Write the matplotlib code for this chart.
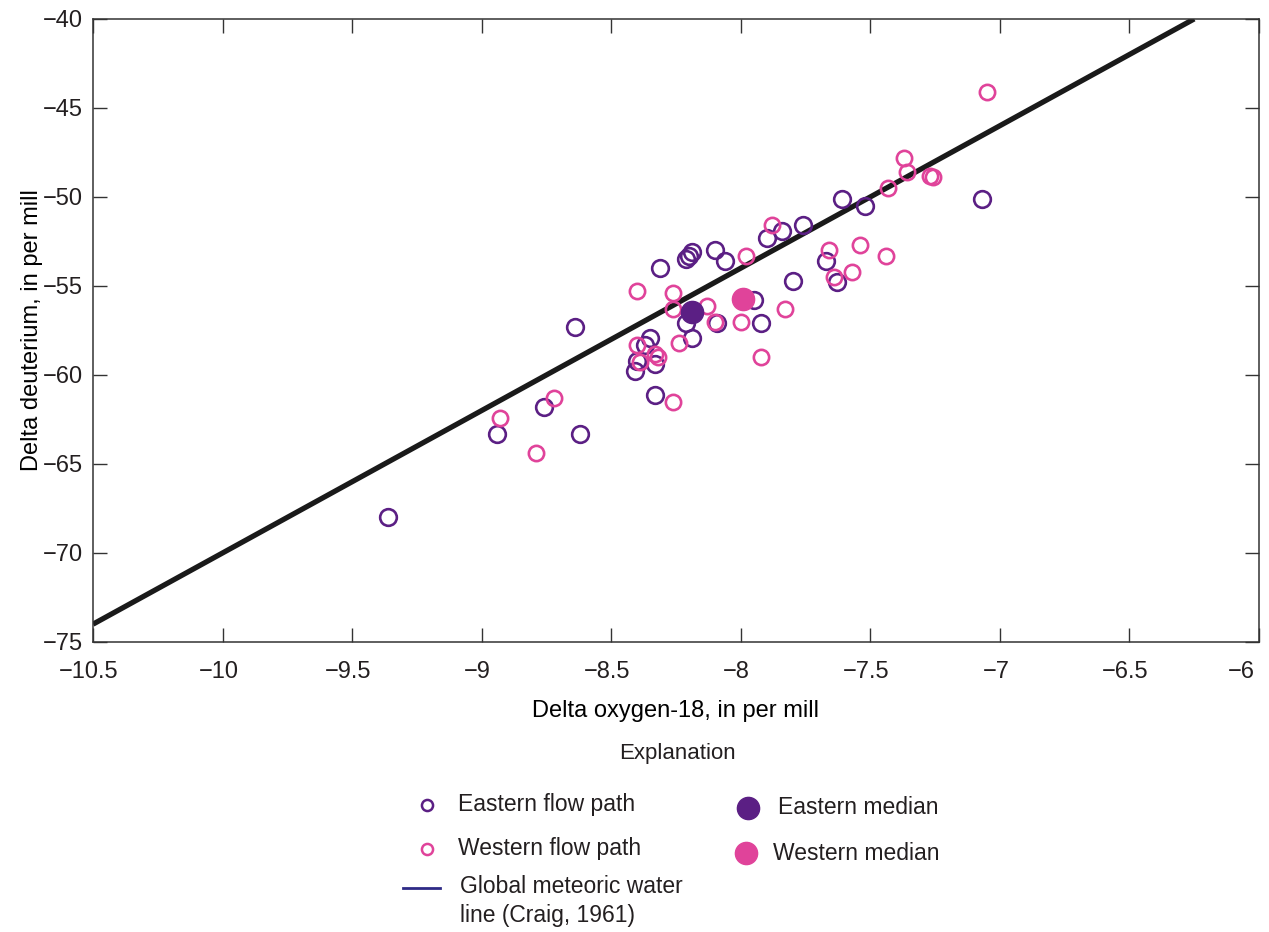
#!/usr/bin/env python3

import numpy as np
import matplotlib
matplotlib.use('Agg')
import matplotlib.pyplot as plt
from matplotlib.lines import Line2D
from matplotlib.transforms import ScaledTranslation

plt.rcParams['font.family'] = ['Liberation Sans', 'DejaVu Sans']
plt.rcParams['text.color'] = '#231f20'

# Eastern flow path samples (delta O-18, delta D)
east_o18 = [-9.36, -8.94, -8.76, -8.62, -8.64, -8.41, -8.40, -8.37, -8.35,
            -8.33, -8.33, -8.31, -8.21, -8.20, -8.19, -8.21, -8.19, -8.10,
            -8.09, -8.06, -7.95, -7.92, -7.90, -7.84, -7.80, -7.76, -7.67,
            -7.63, -7.61, -7.52, -7.07]
east_d = [-68.0, -63.3, -61.8, -63.3, -57.3, -59.8, -59.2, -58.3, -57.9,
          -59.4, -61.1, -54.0, -53.5, -53.3, -53.1, -57.1, -57.9, -53.0,
          -57.1, -53.6, -55.8, -57.1, -52.3, -51.9, -54.7, -51.6, -53.6,
          -54.8, -50.1, -50.5, -50.1]

# Western flow path samples
west_o18 = [-8.79, -8.93, -8.72, -8.40, -8.40, -8.39, -8.33, -8.32, -8.26,
            -8.26, -8.24, -8.26, -8.13, -8.10, -8.00, -7.98, -7.92, -7.88,
            -7.83, -7.66, -7.64, -7.57, -7.54, -7.44, -7.43, -7.37, -7.36,
            -7.27, -7.26, -7.05]
west_d = [-64.4, -62.4, -61.3, -55.3, -58.3, -59.3, -58.8, -59.0, -55.4,
          -56.3, -58.2, -61.5, -56.1, -57.0, -57.0, -53.3, -59.0, -51.6,
          -56.3, -53.0, -54.5, -54.2, -52.7, -53.3, -49.5, -47.8, -48.6,
          -48.8, -48.9, -44.1]

east_median = (-8.19, -56.45)
west_median = (-7.99, -55.75)

# Global meteoric water line (Craig, 1961): dD = 8 * d18O + 10
gmwl_x = np.array([-10.5, -6.25])
gmwl_y = 8 * gmwl_x + 10

xticks = np.arange(-10.5, -5.9, 0.5)
yticks = np.arange(-75, -39, 5)

purple = '#5b1f84'
pink = '#e0439a'


def minus(v):
    return ('%g' % v).replace('-', '\u2212')


fig = plt.figure(figsize=(12.69, 9.32), dpi=100)
ax = fig.add_axes([0.0733, 0.3112, 0.9188, 0.6685])

ax.plot(gmwl_x, gmwl_y, color='#1a1a1a', lw=3.8, solid_capstyle='butt',
        zorder=2)
ax.plot(east_o18, east_d, 'o', ms=12, mfc='none', mec=purple, mew=1.9,
        zorder=3)
ax.plot(west_o18, west_d, 'o', ms=11, mfc='none', mec=pink, mew=1.9,
        zorder=3)
ax.plot(*east_median, 'o', ms=16, color=purple, zorder=4)
ax.plot(*west_median, 'o', ms=16, color=pink, zorder=4)

ax.set_xlim(-10.5, -6)
ax.set_ylim(-75, -40)
ax.set_xticks(xticks)
ax.set_yticks(yticks)
ax.set_xticklabels([minus(v) for v in xticks])
ax.set_yticklabels([minus(v) for v in yticks])
ax.tick_params(direction='in', length=10, width=1, labelsize=17,
               top=True, right=True, colors='#333333',
               labelcolor='#231f20')
ax.tick_params(axis='x', pad=14)
ax.tick_params(axis='y', pad=7)
for spine in ax.spines.values():
    spine.set_linewidth(1.1)
    spine.set_color('#333333')

# x tick labels sit a little left of their ticks; the last one stays inside
shift = ScaledTranslation(-4 / 100, 0, fig.dpi_scale_trans)
for lab in ax.get_xticklabels():
    lab.set_transform(lab.get_transform() + shift)
ax.get_xticklabels()[-1].set_horizontalalignment('right')

ax.set_xlabel('Delta oxygen-18, in per mill', fontsize=17, labelpad=12)
ax.set_ylabel('Delta deuterium, in per mill', fontsize=17, labelpad=0)

# Explanation (legend), placed by hand in figure pixels
W, H = 1269.0, 932.0


def fx(px):
    return px / W


def fy(py):
    return 1 - py / H


fig.text(fx(677), fy(753), 'Explanation', fontsize=16, ha='center',
         va='center')

leg_items = [
    (427, 805, dict(marker='o', ms=8, mfc='none', mec=purple, mew=1.8),
     458, 'Eastern flow path'),
    (427, 849, dict(marker='o', ms=8, mfc='none', mec=pink, mew=1.8),
     458, 'Western flow path'),
    (748, 808, dict(marker='o', ms=16, color=purple),
     778, 'Eastern median'),
    (746, 853, dict(marker='o', ms=16, color=pink),
     773, 'Western median'),
]
for mx, my, style, tx, label in leg_items:
    fig.add_artist(Line2D([fx(mx)], [fy(my)], ls='none',
                          transform=fig.transFigure, **style))
    fig.text(fx(tx), fy(my), label, fontsize=16.5, ha='left', va='center')

fig.add_artist(Line2D([fx(403), fx(440)], [fy(888), fy(888)],
                      color='#2e2a86', lw=2, transform=fig.transFigure))
fig.text(fx(460), fy(875), 'Global meteoric water\nline (Craig, 1961)',
         fontsize=16.5, ha='left', va='top', linespacing=1.35)

fig.savefig('out.png', dpi=100)
